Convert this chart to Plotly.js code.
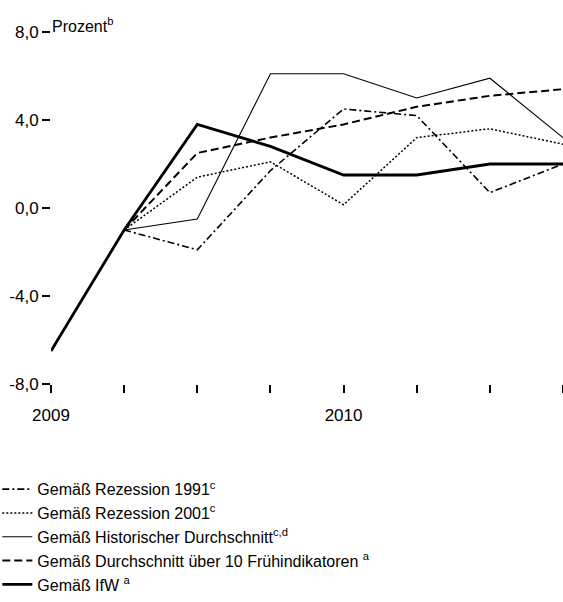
<!DOCTYPE html>
<html>
<head>
<meta charset="utf-8">
<script src="https://cdn.plot.ly/plotly-3.0.1.min.js"></script>
<style>html,body{margin:0;padding:0;background:#fff;}#chart{width:563px;height:602px;}</style>
</head>
<body>
<div id="chart"></div>
<script>
// Quarters 2009 Q1 .. 2010 Q4
const quarters = ["2009 Q1","2009 Q2","2009 Q3","2009 Q4","2010 Q1","2010 Q2","2010 Q3","2010 Q4"];
const yearLabels = ["2009","2010"];
const yTickValues = [-8, -4, 0, 4, 8];
const yTickLabels = ["-8,0","-4,0","0,0","4,0","8,0"];

// Series values (Prozent)
const rezession1991 = [null, -1.0, -1.9, 1.7, 4.5, 4.2, 0.7, 2.0];
const rezession2001 = [null, -1.0, 1.4, 2.1, 0.15, 3.2, 3.6, 2.9];
const historisch    = [null, -1.0, -0.5, 6.1, 6.1, 5.0, 5.9, 3.2];
const fruehindik    = [null, -1.0, 2.5, 3.2, 3.8, 4.6, 5.1, 5.4];
const ifw           = [-6.5, -1.0, 3.8, 2.8, 1.5, 1.5, 2.0, 2.0];

const names = [
  "Gemäß Rezession 1991<sup>c</sup>",
  "Gemäß Rezession 2001<sup>c</sup>",
  "Gemäß Historischer Durchschnitt<sup>c,d</sup>",
  "Gemäß Durchschnitt über 10 Frühindikatoren <sup>a</sup>",
  "Gemäß IfW <sup>a</sup>"
];

const FONT = "Liberation Sans, Arial, sans-serif";

// quarter position on the axis (index of the quarter)
const xPos = quarters.map((q, i) => i);
const yearTickPos = yearLabels.map(y => quarters.indexOf(y + " Q1"));

function tr(vals, name, line, k) {
  return {x: xPos, y: vals, name: name, mode: "lines", line: line,
          text: quarters, legendgroup: "g" + k, hoverinfo: "text+y"};
}

const traces = [
  tr(rezession1991, names[0], {color: "#000", width: 1.6, dash: "7px,3px,2px,3px"}, 0),
  tr(rezession2001, names[1], {color: "#000", width: 1.5, dash: "2px,2px"}, 1),
  tr(historisch,    names[2], {color: "#000", width: 1.1}, 2),
  tr(fruehindik,    names[3], {color: "#000", width: 2, dash: "8px,4px"}, 3),
  tr(ifw,           names[4], {color: "#000", width: 2.8}, 4)
];

const layout = {
  width: 563, height: 602,
  margin: {l: 51, r: 0, t: 32, b: 218},
  paper_bgcolor: "#fff", plot_bgcolor: "#fff",
  font: {family: FONT, size: 17, color: "#000"},
  showlegend: true,
  legend: {
    x: -0.099, xanchor: "left", y: -0.617, yanchor: "bottom",
    traceorder: "normal", itemwidth: 30, indentation: -3,
    font: {family: FONT, size: 16, color: "#000"},
    bgcolor: "rgba(0,0,0,0)", tracegroupgap: 1
  },
  xaxis: {
    range: [0, 7], automargin: false,
    showgrid: false, zeroline: false, showline: false,
    ticks: "outside", ticklen: 8, tickwidth: 2, tickcolor: "#000",
    tickmode: "array", tickvals: yearTickPos, ticktext: yearLabels,
    ticklabelstandoff: 8,
    minor: {ticks: "outside", ticklen: 8, tickwidth: 2, tickcolor: "#000", dtick: 1, tick0: 0, showgrid: false},
    tickfont: {family: FONT, size: 17, color: "#000"}
  },
  yaxis: {
    range: [-8, 8], automargin: false,
    tickmode: "array", tickvals: yTickValues, ticktext: yTickLabels,
    showgrid: false, zeroline: false, showline: false,
    ticks: "outside", ticklen: 8, tickwidth: 2, tickcolor: "#000",
    tickfont: {family: FONT, size: 17, color: "#000"}
  },
  annotations: [{
    text: "Prozent<sup>b</sup>", xref: "paper", yref: "paper",
    x: 0, y: 1, xanchor: "left", yanchor: "bottom", showarrow: false,
    xshift: -1, yshift: -5,
    font: {family: FONT, size: 16, color: "#000"}
  }]
};

Plotly.newPlot("chart", traces, layout, {displayModeBar: false, staticPlot: true});
</script>
</body>
</html>
